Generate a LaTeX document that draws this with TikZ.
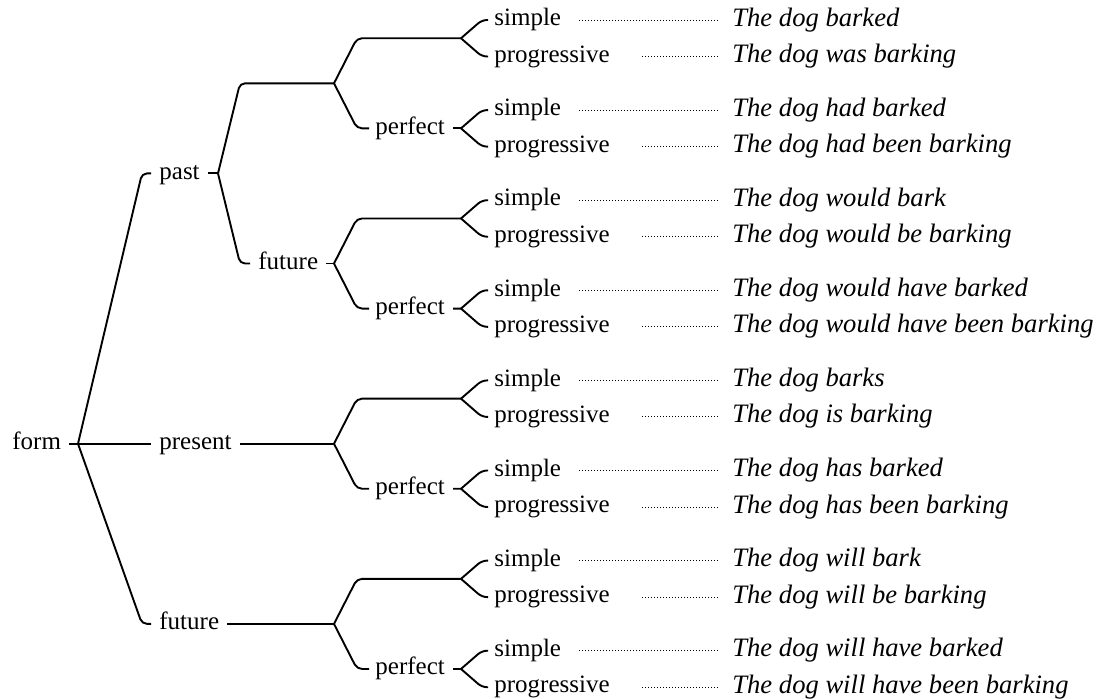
\documentclass[tikz,border=0pt]{standalone}
\usepackage{fontspec}
\setmainfont{Liberation Serif}
\usetikzlibrary{calc}
\begin{document}
\begin{tikzpicture}[x=0.5pt,y=-0.5pt,
  lbl/.style={anchor=west,inner sep=0pt,text height=5.7pt,text depth=0pt,
    font=\fontsize{12.5}{15}\selectfont},
  sent/.style={anchor=west,inner sep=0pt,text height=6pt,text depth=0pt,
    font=\fontsize{13.3}{15}\selectfont\itshape},
  branch/.style={line width=0.95pt,rounded corners=2.5pt},
  leader/.style={line width=0.5pt,dash pattern=on 0.5pt off 1pt}]
\useasboundingbox (0,0) rectangle (1104,698);

% tree labels
\node[lbl] (form)    at (12,443.7)  {form};
\node[lbl] (past)    at (159,173.4) {past};
\node[lbl] (present) at (159,443.7) {present};
\node[lbl] (future)  at (159,623.9) {future};
\node[lbl] (pfuture) at (258,263.5) {future};

% branching points
\coordinate (J0)    at (78,443.7);
\coordinate (Jpast) at (218,173.4);
\foreach \m in {0,...,3}{
  \coordinate (J3-\m) at (334,83.3+180.2*\m);
  \node[lbl] (perf-\m) at (375,128.35+180.2*\m) {perfect};
}

% leaves and example sentences
\foreach \k/\a/\b in {
  0/The dog barked/The dog was barking,
  1/The dog had barked/The dog had been barking,
  2/The dog would bark/The dog would be barking,
  3/The dog would have barked/The dog would have been barking,
  4/The dog barks/The dog is barking,
  5/The dog has barked/The dog has been barking,
  6/The dog will bark/The dog will be barking,
  7/The dog will have barked/The dog will have been barking}{
  \coordinate (J4-\k) at (461,38.25+90.1*\k);
  \node[lbl]  (s\k)  at (494,20+90.1*\k)   {simple};
  \node[lbl]  (p\k)  at (494,56.5+90.1*\k) {progressive};
  \node[sent] (ts\k) at (732,20+90.1*\k)   {\a};
  \node[sent] (tp\k) at (732,56.5+90.1*\k) {\b};
}

% form -> past / present / future
\draw[branch] ([xshift=4pt]form.east) -- (J0);
\foreach \c in {past,present,future}
  \draw[branch] (J0) -- ($(J0 |- \c)+(64,0)$) -- ([xshift=-4pt]\c.west);

% past -> (plain) / future
\draw[branch] ([xshift=4pt]past.east) -- (Jpast);
\draw[branch] (Jpast) -- ($(Jpast |- J3-0)+(22,0)$) -- (J3-0);
\draw[branch] (Jpast) -- ($(Jpast |- pfuture)+(22,0)$) -- ([xshift=-4pt]pfuture.west);
\draw[branch] ([xshift=4pt]pfuture.east) -- (J3-1);
\draw[branch] ([xshift=4pt]present.east) -- (J3-2);
\draw[branch] ([xshift=4pt]future.east) -- (J3-3);

% aspect: (plain) / perfect
\foreach \m/\e/\o in {0/0/1,1/2/3,2/4/5,3/6/7}{
  \draw[branch] (J3-\m) -- ($(J3-\m |- J4-\e)+(23,0)$) -- (J4-\e);
  \draw[branch] (J3-\m) -- ($(J3-\m |- perf-\m)+(23,0)$) -- ([xshift=-3pt]perf-\m.west);
  \draw[branch] ([xshift=4pt]perf-\m.east) -- (J4-\o);
}

% simple / progressive and dotted leaders
\foreach \k in {0,...,7}{
  \draw[branch] (J4-\k) -- ($(J4-\k |- s\k)+(21,0)$) -- ([xshift=-3pt]s\k.west);
  \draw[branch] (J4-\k) -- ($(J4-\k |- p\k)+(21,0)$) -- ([xshift=-3pt]p\k.west);
  \draw[leader] ([xshift=9pt]s\k.east) -- ([xshift=-7pt]ts\k.west);
  \draw[leader] ([xshift=16pt]p\k.east) -- ([xshift=-7pt]tp\k.west);
}
\end{tikzpicture}
\end{document}
